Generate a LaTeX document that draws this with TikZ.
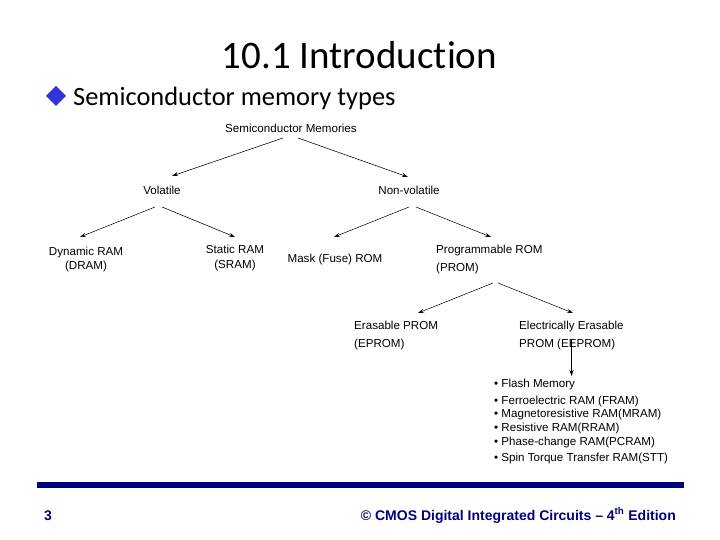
\documentclass[tikz,border=0pt]{standalone}
\usepackage{fontspec}
\setmainfont{Liberation Sans}
\newfontfamily\slidefont[Ligatures={NoCommon,NoRare,NoContextual}]{Carlito}
\usetikzlibrary{arrows.meta}
\definecolor{navy}{RGB}{0,0,128}
\definecolor{diam}{RGB}{51,51,214}
\begin{document}
\begin{tikzpicture}[x=1pt,y=-1pt,
  lbl/.style={inner sep=0pt,anchor=base,font=\fontsize{11.6}{14}\selectfont},
  lblw/.style={lbl,anchor=base west},
  arr/.style={-{Stealth[length=6pt,width=4pt]},line width=0.55pt},
  foot/.style={inner sep=0pt,font=\bfseries\fontsize{14}{16}\selectfont,text=navy}]
\useasboundingbox (0,0) rectangle (720,540);
% heading
\node[inner sep=0pt,anchor=base,font=\slidefont\fontsize{39}{40}\selectfont] (title) at (359.5,68.5) {10.1 Introduction};
\fill[diam] (56,86) -- (66,96) -- (56,106) -- (46,96) -- cycle;
\node[inner sep=0pt,anchor=base west,font=\slidefont\fontsize{26.4}{28}\selectfont] (sub) at (73,106) {Semiconductor memory types};
% tree
\node[lbl] (sm) at (291,133) {Semiconductor Memories};
\node[lbl] (vol) at (162,195) {Volatile};
\node[lbl] (non) at (409,195) {Non-volatile};
\node[lbl] (dram1) at (86,255) {Dynamic RAM};
\node[lbl] (dram2) at (86,269) {(DRAM)};
\node[lbl] (sram1) at (235,254) {Static RAM};
\node[lbl] (sram2) at (235,268) {(SRAM)};
\node[lbl] (mask) at (335,262) {Mask (Fuse) ROM};
\node[lblw] (prom1) at (436,254) {Programmable ROM};
\node[lblw] (prom2) at (436,271) {(PROM)};
\node[lblw] (eprom1) at (354,329) {Erasable PROM};
\node[lblw] (eprom2) at (354,347) {(EPROM)};
\node[lblw] (ee1) at (519,329) {Electrically Erasable};
\node[lblw] (ee2) at (519,347) {PROM (EEPROM)};
\node[lblw] (l1) at (494,387) {\textbullet\ Flash Memory};
\node[lblw] (l2) at (494,404) {\textbullet\ Ferroelectric RAM (FRAM)};
\node[lblw] (l3) at (494,417.5) {\textbullet\ Magnetoresistive RAM(MRAM)};
\node[lblw] (l4) at (494,431) {\textbullet\ Resistive RAM(RRAM)};
\node[lblw] (l5) at (494,445) {\textbullet\ Phase-change RAM(PCRAM)};
\node[lblw] (l6) at (494,461.5) {\textbullet\ Spin Torque Transfer RAM(STT)};
% connectors
\draw[arr] ([shift={(-8,5)}]sm.base) -- ([shift={(10,-19)}]vol.base);
\draw[arr] ([shift={(7,5)}]sm.base) -- ([shift={(-1,-18)}]non.base);
\draw[arr] ([shift={(-7,12)}]vol.base) -- ([shift={(-6,-18)}]dram1.base);
\draw[arr] ([shift={(0,12)}]vol.base) -- ([shift={(0,-17)}]sram1.base);
\draw[arr] ([shift={(0,12)}]non.base) -- ([shift={(-1,-25)}]mask.base);
\draw[arr] ([shift={(7,12)}]non.base) -- ([shift={(55,-17)}]prom1.base west);
\draw[arr] ([shift={(57,12)}]prom2.base west) -- ([shift={(64,-16)}]eprom1.base west);
\draw[arr] ([shift={(62,12)}]prom2.base west) -- ([shift={(54,-16)}]ee1.base west);
\draw[arr] ([shift={(52.5,-8)}]ee2.base west) -- ([shift={(77.5,-11)}]l1.base west);
% footer
\fill[navy] (37,482) rectangle (684,488);
\node[foot,anchor=base west] (pg) at (44,520) {3};
\node[foot,anchor=base east] (ft) at (676,520) {© CMOS Digital Integrated Circuits – 4\textsuperscript{th} Edition};
\end{tikzpicture}
\end{document}
